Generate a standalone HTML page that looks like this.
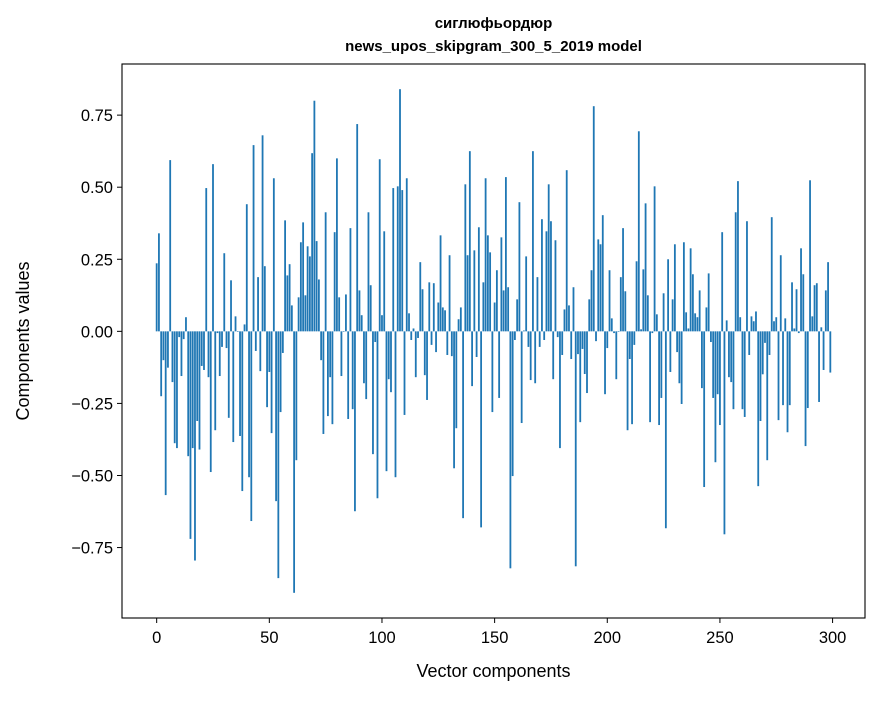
<!DOCTYPE html>
<html><head><meta charset="utf-8">
<style>
html,body{margin:0;padding:0;background:#fff;}
svg text{font-family:"Liberation Sans","DejaVu Sans",sans-serif;fill:#000;}
</style></head>
<body>
<svg id="chart" width="880" height="696" xmlns="http://www.w3.org/2000/svg">
<rect x="0" y="0" width="880" height="696" fill="#fff"/>
<text x="493.5" y="28" text-anchor="middle" font-size="15" font-weight="bold">сиглюфьордюр</text>
<text x="493.5" y="51" text-anchor="middle" font-size="15" font-weight="bold">news_upos_skipgram_300_5_2019 model</text>
<g id="bars"></g>
<rect x="122" y="64" width="743" height="554" fill="none" stroke="#000" stroke-width="1.1"/>
<g id="xticks"></g>
<g id="yticks"></g>
<text x="493.5" y="677" text-anchor="middle" font-size="18">Vector components</text>
<text transform="translate(29,341) rotate(-90)" text-anchor="middle" font-size="18">Components values</text>
</svg>
<script>
const values = [
0.236,0.34,-0.225,-0.10,-0.568,-0.126,0.594,-0.176,-0.388,-0.405,
-0.02,-0.155,-0.027,0.049,-0.433,-0.72,-0.405,-0.795,-0.311,-0.41,
-0.12,-0.134,0.497,-0.159,-0.488,0.58,-0.343,-0.006,-0.155,-0.054,
0.271,-0.058,-0.3,0.177,-0.384,0.052,-0.002,-0.363,-0.554,0.024,
0.441,-0.506,-0.658,0.646,-0.068,0.188,-0.138,0.68,0.226,-0.263,
-0.141,-0.353,0.531,-0.589,-0.856,-0.28,-0.075,0.385,0.194,0.233,
0.09,-0.907,-0.447,0.118,0.309,0.378,0.125,0.295,0.26,0.618,
0.8,0.313,0.18,-0.1,-0.356,0.413,-0.294,-0.159,-0.322,0.344,
0.6,0.118,-0.155,-0.002,0.128,-0.304,0.358,-0.27,-0.624,0.719,
0.142,0.056,-0.18,-0.235,0.413,0.16,-0.426,-0.037,-0.579,0.597,
0.056,0.347,-0.485,-0.166,-0.211,0.497,-0.506,0.503,0.84,0.49,
-0.29,0.531,0.0625,-0.03,0.01,-0.159,-0.023,0.24,0.146,-0.152,
-0.238,0.17,-0.047,0.167,-0.072,0.1,0.333,0.083,0.073,-0.082,
0.264,-0.086,-0.475,-0.336,0.042,0.083,-0.648,0.51,0.264,0.625,
-0.19,0.281,-0.089,0.361,-0.68,0.17,0.531,0.333,0.274,-0.28,
0.1,0.212,-0.231,0.326,0.142,0.535,0.153,-0.822,-0.502,-0.03,
0.111,0.448,-0.318,0.003,0.26,-0.054,-0.169,0.625,-0.18,0.188,
-0.054,0.389,-0.03,0.347,0.51,0.382,-0.166,0.316,-0.02,-0.405,
-0.082,0.076,0.559,0.09,-0.096,0.153,-0.815,-0.079,-0.315,-0.061,
-0.148,-0.214,0.111,0.212,0.781,-0.034,0.319,0.302,0.403,-0.218,
-0.058,0.212,0.045,-0.006,-0.166,-0.002,0.188,0.358,0.139,-0.343,
-0.096,-0.322,-0.047,0.243,0.694,0.007,0.215,0.444,0.125,-0.315,
-0.006,0.503,0.059,-0.325,-0.231,0.132,-0.683,0.25,-0.141,0.111,
0.302,-0.072,-0.18,-0.252,0.309,0.066,0.01,0.288,0.198,0.0625,
0.049,0.142,-0.197,-0.54,0.083,0.201,-0.037,-0.231,-0.454,-0.218,
-0.325,0.344,-0.704,0.038,-0.159,-0.176,-0.27,0.413,0.521,0.049,
-0.27,-0.297,0.382,-0.082,0.052,0.035,0.069,-0.537,-0.311,-0.149,
-0.04,-0.447,-0.082,0.396,0.035,0.049,-0.308,0.264,-0.256,0.045,
-0.35,-0.256,0.17,0.01,0.146,-0.006,0.288,0.198,-0.398,-0.266,
0.524,0.052,0.16,0.167,-0.245,0.014,-0.134,0.142,0.24,-0.143
];
const xTickValues = [0,50,100,150,200,250,300];
const yTickValues = [-0.75,-0.5,-0.25,0,0.25,0.5,0.75];
const yTickLabels = ["−0.75","−0.50","−0.25","0.00","0.25","0.50","0.75"];

const NS = "http://www.w3.org/2000/svg";
const X0 = 122, X1 = 865, Y0 = 64, Y1 = 618;
const n = values.length;
const xmin = -0.4 - 0.05*(n-0.2), xmax = (n-1)+0.4 + 0.05*(n-0.2);
let vmax = Math.max(...values), vmin = Math.min(...values);
const yr = vmax - vmin;
const ymin = vmin - 0.05*yr, ymax = vmax + 0.05*yr;
const xs = v => X0 + (v - xmin)/(xmax - xmin)*(X1 - X0);
const ys = v => Y1 - (v - ymin)/(ymax - ymin)*(Y1 - Y0);

const bars = document.getElementById('bars');
values.forEach((v,i) => {
  const r = document.createElementNS(NS,'rect');
  const xl = xs(i-0.4), xr = xs(i+0.4);
  const y0 = ys(0), yv = ys(v);
  r.setAttribute('x', xl);
  r.setAttribute('width', xr - xl);
  r.setAttribute('y', Math.min(y0,yv));
  r.setAttribute('height', Math.abs(yv - y0));
  r.setAttribute('fill', '#1f77b4');
  
  
  bars.appendChild(r);
});

const xt = document.getElementById('xticks');
xTickValues.forEach(t => {
  const x = xs(t);
  const l = document.createElementNS(NS,'line');
  l.setAttribute('x1',x); l.setAttribute('x2',x);
  l.setAttribute('y1',Y1); l.setAttribute('y2',Y1+5);
  l.setAttribute('stroke','#000');
  
  
  xt.appendChild(l);
  const tx = document.createElementNS(NS,'text');
  tx.setAttribute('x',x); tx.setAttribute('y',Y1+25);
  tx.setAttribute('text-anchor','middle'); tx.setAttribute('font-size','16.5');
  tx.textContent = String(t);
  
  
  xt.appendChild(tx);
});

const yt = document.getElementById('yticks');
yTickValues.forEach((t,k) => {
  const y = ys(t);
  const l = document.createElementNS(NS,'line');
  l.setAttribute('x1',X0-5); l.setAttribute('x2',X0);
  l.setAttribute('y1',y); l.setAttribute('y2',y);
  l.setAttribute('stroke','#000');
  
  
  yt.appendChild(l);
  const tx = document.createElementNS(NS,'text');
  tx.setAttribute('x',X0-9); tx.setAttribute('y',y+6);
  tx.setAttribute('text-anchor','end'); tx.setAttribute('font-size','16.5');
  tx.textContent = yTickLabels[k];
  
  
  yt.appendChild(tx);
});
</script>
</body></html>
